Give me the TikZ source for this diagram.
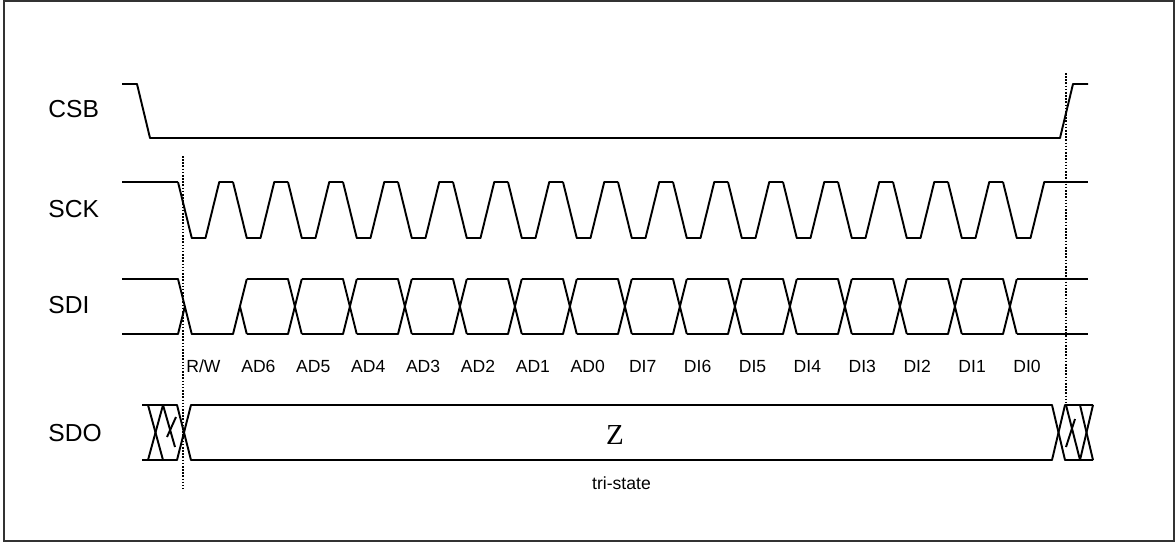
\documentclass[tikz,border=0pt]{standalone}
\usepackage{fontspec}
\setmainfont{Liberation Sans}
\newfontfamily\zfont{Liberation Serif}
\usepackage{tikz}
\usetikzlibrary{positioning}

\begin{document}
\begin{tikzpicture}[x=0.02cm, y=-0.02cm]
			\tikzstyle{Frame}	= [line width=0.8pt, black!80]
			\tikzstyle{Wave}	= [line width=1.1pt, line join=round]
			\tikzstyle{Guide}	= [line width=0.9pt, dash pattern=on 0.9pt off 0.9pt]
			\tikzstyle{SigName}	= [anchor=west, inner sep=0pt, font=\fontsize{14}{16}\selectfont]
			\tikzstyle{BitName}	= [anchor=base, inner sep=0pt, font=\fontsize{10}{12}\selectfont]

			\useasboundingbox (0,0) rectangle (1176,542);
			\draw [Frame] (4,1) rectangle (1174,541);

			% signal names
			\node (csb) at (48,109) [SigName] {CSB};
			\node (sck) at (48,209) [SigName] {SCK};
			\node (sdi) at (48,305) [SigName] {SDI};
			\node (sdo) at (48,433) [SigName] {SDO};

			% CSB
			\draw [Wave] (122,84) -- (137,84) -- (150,138) -- (1060,138) -- (1073,84) -- (1088,84);

			% SCK
			\draw [Wave] (122,182) -- (178,182);
			\foreach \k in {0,...,15}
				\draw [Wave] ({178+55*\k},182) -- ++(13.75,56) -- ++(13.75,0) -- ++(13.75,-56) -- ++(13.75,0);
			\draw [Wave] (1047,182) -- (1088,182);

			% SDI
			\draw [Wave] (122,279) -- (178,279) -- (191.75,334) -- (233,334) -- (246.75,279);
			\draw [Wave] (122,334) -- (178,334) -- (184.9,306.5);
			\draw [Wave] (240,306.5) -- (246.75,334);
			\foreach \k in {1,...,14} {
				\draw [Wave] ({191.75+55*\k},279) -- ({233+55*\k},279) -- ++(13.75,55);
				\draw [Wave] ({191.75+55*\k},334) -- ({233+55*\k},334) -- ++(13.75,-55);
			}
			\draw [Wave] (1016.75,279) -- (1088,279);
			\draw [Wave] (1016.75,334) -- (1088,334);

			% bit names
			\foreach \n [count=\k from 0] in {R/W,AD6,AD5,AD4,AD3,AD2,AD1,AD0,DI7,DI6,DI5,DI4,DI3,DI2,DI1,DI0}
				\node (bit\k) at ({203.5+54.9*\k},372) [BitName] {\n};

			% SDO
			\draw [Wave] (142,405) -- (177,405) -- (191,460) -- (1052,460) -- (1065,405) -- (1093,405);
			\draw [Wave] (142,460) -- (177,460) -- (191,405) -- (1052,405) -- (1065,460) -- (1093,460);
			\draw [Wave] (148,405) -- (163,460);
			\draw [Wave] (148,460) -- (163,405) -- (175,447);
			\draw [Wave] (167,437) -- (176,417);
			\draw [Wave] (1066,405) -- (1080,460) -- (1093,405);
			\draw [Wave] (1080,405) -- (1093,460);
			\draw [Wave] (1066,447) -- (1075,419);

			\node (z) at (615,434.5) [inner sep=0pt, font=\zfont\fontsize{16.5}{18}\selectfont] {Z};
			\node (tristate) at (621.5,483) [BitName, anchor=center] {tri-state};

			% guides
			\draw [Guide] (183,156) -- (183,489);
			\draw [Guide] (1066,73) -- (1066,402);
		\end{tikzpicture}
\end{document}
